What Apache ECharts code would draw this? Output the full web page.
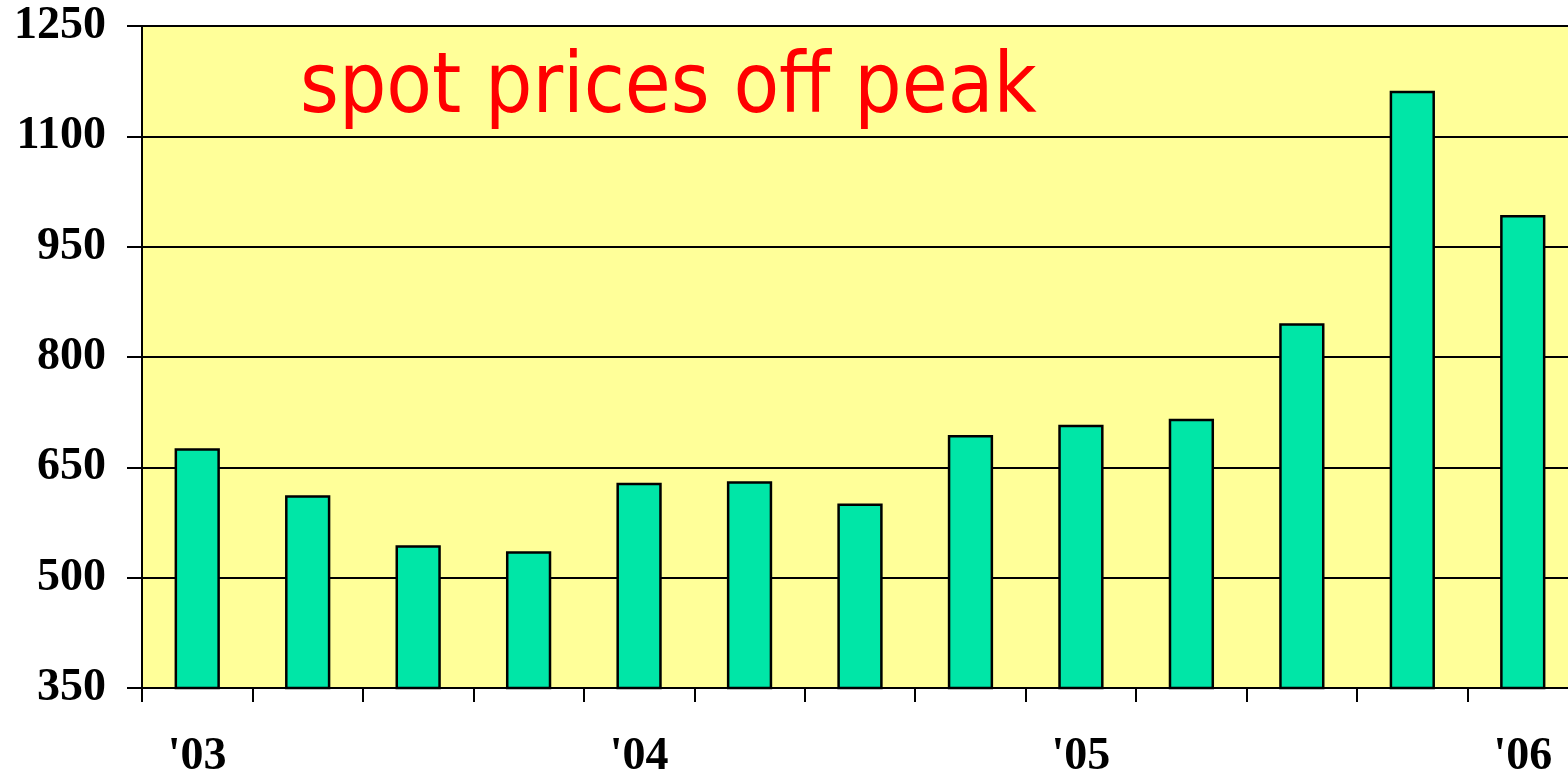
<!DOCTYPE html>
<html>
<head>
<meta charset="UTF-8">
<title>spot prices off peak</title>
<script src="https://cdn.jsdelivr.net/npm/echarts@6/dist/echarts.min.js"></script>
<style>
	html, body { margin: 0; padding: 0; background: #fff; }
	#chart { width: 1568px; height: 773px; }
</style>
</head>
<body>
<div id="chart"></div>
<script type="text/javascript">
	// quarters 2003 Q1 .. 2006 Q1
	var quarters = ['2003Q1','2003Q2','2003Q3','2003Q4','2004Q1','2004Q2','2004Q3','2004Q4','2005Q1','2005Q2','2005Q3','2005Q4','2006Q1'];
	var tickLabels = ["'03", '', '', '', "'04", '', '', '', "'05", '', '', '', "'06"];
	var offPeak = [676, 612, 544, 536, 629, 631, 601, 694, 708, 716, 846, 1162, 993];
	var yMin = 350, yMax = 1250, yStep = 150;

	var chart = echarts.init(document.getElementById('chart'));
	var option = {
		animation: false,
		title: {
			text: 'spot prices off peak',
			left: 295,
			top: 44,
			textStyle: {
				color: '#ff0000',
				fontFamily: 'DejaVu Sans Condensed',
				fontWeight: 'normal',
				fontSize: 83
			}
		},
		grid: {
			show: true,
			left: 142,
			top: 26,
			width: 1436,
			height: 662,
			outerBoundsMode: 'none',
			containLabel: false,
			backgroundColor: '#ffff99',
			borderColor: '#000',
			borderWidth: 2
		},
		xAxis: {
			type: 'category',
			data: quarters,
			axisLine: { lineStyle: { color: '#000', width: 2 } },
			axisTick: { show: true, interval: 0, length: 14, lineStyle: { color: '#000', width: 2 } },
			axisLabel: {
				interval: 0,
				margin: 46,
				color: '#000',
				fontFamily: 'Liberation Serif',
				fontWeight: 'bold',
				fontSize: 46,
				formatter: function (v, i) { return tickLabels[i]; }
			}
		},
		yAxis: {
			type: 'value',
			min: yMin,
			max: yMax,
			interval: yStep,
			axisLine: { show: true, lineStyle: { color: '#000', width: 2 } },
			axisTick: { show: true, length: 15, lineStyle: { color: '#000', width: 2 } },
			splitLine: { lineStyle: { color: '#000', width: 2 } },
			axisLabel: {
				margin: 36,
				color: '#000',
				fontFamily: 'Liberation Serif',
				fontWeight: 'bold',
				fontSize: 46,
				formatter: function (v) { return String(v); }
			}
		},
		series: [{
			type: 'bar',
			data: offPeak,
			barWidth: '41%',
			itemStyle: {
				color: '#00e6a7',
				borderColor: '#000',
				borderWidth: 2.5
			}
		}]
	};
	chart.setOption(option);
</script>
</body>
</html>
